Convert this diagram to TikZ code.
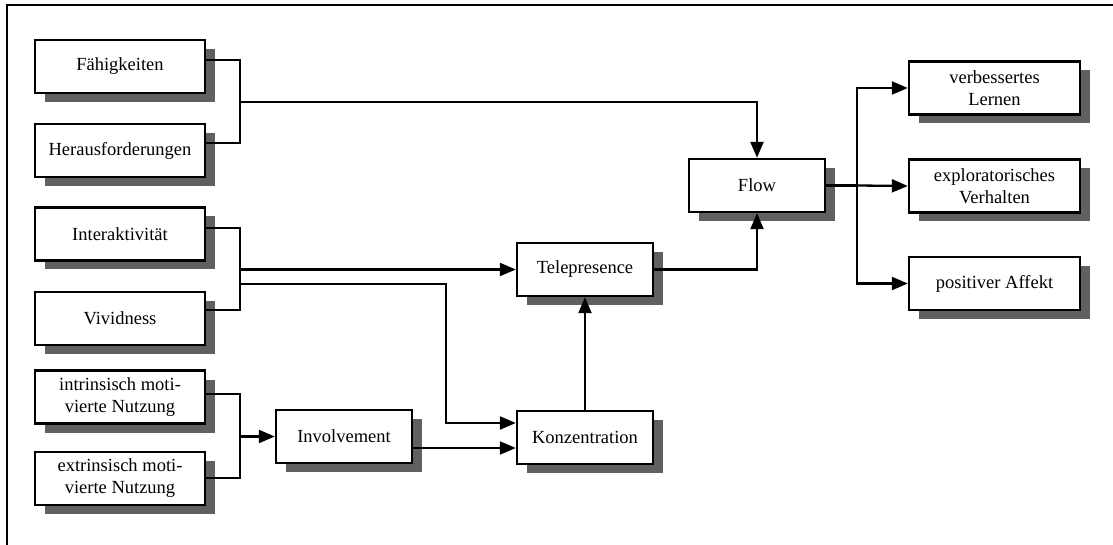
\documentclass[tikz,border=0pt]{standalone}
\usepackage{fontspec}
\setmainfont{Liberation Serif}
\usetikzlibrary{arrows.meta,shadows,calc}
\definecolor{shadowgray}{HTML}{606060}
\tikzset{
  box/.style={draw, line width=2.4pt, fill=white, rectangle, align=center,
    minimum height=53pt, inner sep=2pt,
    font=\fontsize{18.5}{22}\selectfont,
    drop shadow={shadow xshift=10pt, shadow yshift=-9pt, fill=shadowgray, opacity=1}},
  wide/.style={box, minimum width=170pt},
  narrow/.style={box, minimum width=136pt},
  conn/.style={line width=2.3pt},
  arr/.style={conn, -{Triangle[length=16pt,width=13pt]}},
}
\begin{document}
\begin{tikzpicture}[x=1pt,y=-1pt]
\useasboundingbox (0,0) rectangle (1113,545);
% frame edges
\draw[line width=2.8pt] (7,545) -- (7,5) -- (1113,5);

% input boxes
\node[wide] (F)  at (120,66.5)  {Fähigkeiten};
\node[wide] (H)  at (120,150.5) {Herausforderungen};
\node[wide] (I)  at (120,234)   {Interaktivität};
\node[wide] (V)  at (120,318.5) {Vividness};
\node[wide] (IM) at (120,397)   {intrinsisch moti-\\vierte Nutzung};
\node[wide] (EM) at (120,478.5) {extrinsisch moti-\\vierte Nutzung};

% intermediate constructs
\node[narrow] (Inv)  at (344,436.5) {Involvement};
\node[narrow] (K)    at (585,437.5) {Konzentration};
\node[narrow] (T)    at (585,269.5) {Telepresence};
\node[narrow] (Flow) at (757,185.5) {Flow};

% outcomes
\node[wide, minimum width=171pt] (L) at (994.5,88)    {verbessertes\\Lernen};
\node[wide, minimum width=171pt] (E) at (994.5,186)   {exploratorisches\\Verhalten};
\node[wide, minimum width=171pt] (P) at (994.5,283.5) {positiver Affekt};

% junction points
\coordinate (bFH) at (240,102);
\coordinate (bIV) at (240,269.5);
\coordinate (bIV2) at (240,284);
\coordinate (bIE) at (240,436.5);
\coordinate (kin1) at ([yshift=14.5pt]K.west);
\coordinate (kin2) at ([yshift=-11.5pt]Inv.east);
\coordinate (fb) at (857,185.5);

% skills and challenges -> flow
\draw[conn] ([yshift=6.5pt]F.east) -| (bFH) |- ([yshift=7.5pt]H.east);
\draw[arr] (bFH) -| (Flow.north);

% interactivity and vividness
\draw[conn] ([yshift=6pt]I.east) -| (bIV) |- ([yshift=8.5pt]V.east);
\draw[conn] (bIV) -- (bIV2);
\draw[arr] (bIV) -- (T.west);
\draw[arr] (bIV2) -| ([xshift=-70pt]kin1) -- (kin1);

% motivation -> involvement -> concentration
\draw[conn] ([yshift=3pt]IM.east) -| (bIE) |- ([yshift=0.5pt]EM.east);
\draw[arr] (bIE) -- (Inv.west);
\draw[arr] (kin2) -- (kin2 -| K.west);

% concentration -> telepresence -> flow
\draw[arr] (K.north) -- (T.south);
\draw[arr] (T.east) -| (Flow.south);

% flow -> outcomes
\draw[conn] (Flow.east) -- (fb);
\draw[arr] (fb) -- (E.west);
\draw[arr] (fb) |- (L.west);
\draw[arr] (fb) |- (P.west);
\end{tikzpicture}
\end{document}
